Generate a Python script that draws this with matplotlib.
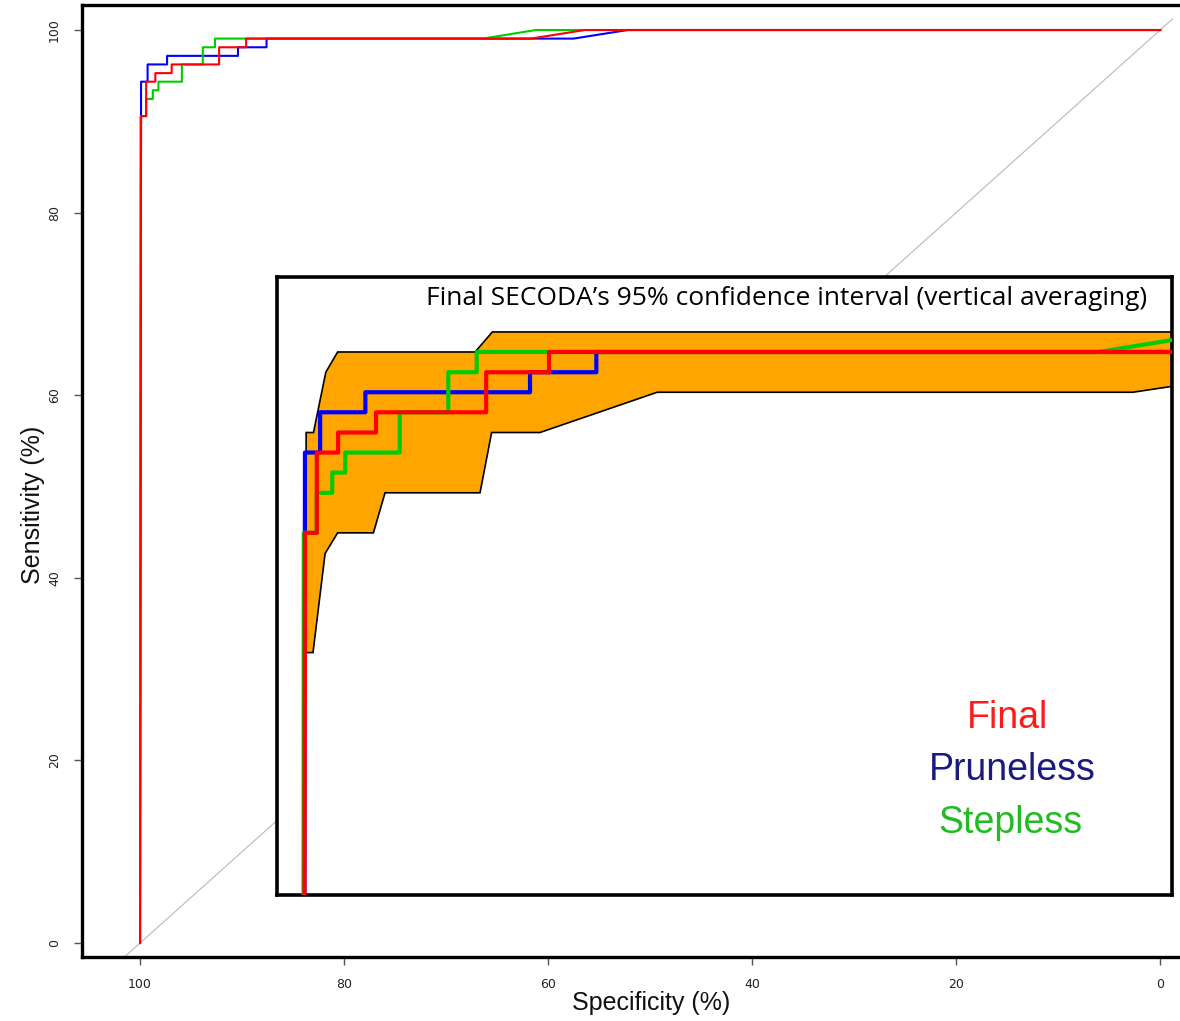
import matplotlib
matplotlib.use("Agg")
import matplotlib.pyplot as plt

# ROC curves (specificity %, sensitivity %)
final_spec = [100, 99.9, 99.4, 99.4, 98.5, 98.5, 96.9, 96.9, 92.25, 92.25, 89.6, 89.6, 61.7, 56.4, 0]
final_sens = [0, 90.57, 90.57, 94.34, 94.34, 95.28, 95.28, 96.23, 96.23, 98.11, 98.11, 99.06, 99.06, 100, 100]

pruneless_spec = [100, 99.9, 99.26, 99.26, 97.35, 97.35, 90.4, 90.4, 87.6, 87.6, 57.5, 52.2, 0]
pruneless_sens = [0, 94.34, 94.34, 96.23, 96.23, 97.17, 97.17, 98.11, 98.11, 99.06, 99.06, 100, 100]

stepless_spec = [100, 99.95, 99.4, 99.4, 98.75, 98.75, 98.2, 98.2, 95.9, 95.9, 93.85, 93.85,
                 92.65, 92.65, 66.4, 61.2, 0]
stepless_sens = [0, 90.57, 90.57, 92.45, 92.45, 93.40, 93.40, 94.34, 94.34, 96.23, 96.23, 98.11,
                 98.11, 99.06, 99.06, 100, 100]

# 95% CI band of Final (vertical averaging)
ci_upper_spec = [99.85, 99.85, 99.54, 99.02, 98.52, 92.72, 91.99, 0]
ci_upper_sens = [84.95, 95.28, 95.28, 98.11, 99.06, 99.06, 100, 100]
ci_lower_spec = [99.85, 99.56, 99.05, 98.52, 97.01, 96.52, 92.51, 92.02, 89.98, 85.03, 64.95, 60]
ci_lower_sens = [84.95, 84.95, 89.6, 90.57, 90.57, 92.45, 92.45, 95.28, 95.28, 97.17, 97.17, 98.0]

x_ticks = [100, 80, 60, 40, 20, 0]
y_ticks = [0, 20, 40, 60, 80, 100]

RED = "#ff0000"
BLUE = "#0000ff"
GREEN = "#00cc00"

W, H = 1180, 1021
fig = plt.figure(figsize=(W / 100, H / 100), dpi=100)

# main axes (pixel box measured on the reference)
ax = fig.add_axes([82 / W, 1 - 957 / H, (1192 - 82) / W, (957 - 5) / H])
ax.set_xlim(105.69, -3.12)
ax.set_ylim(-1.53, 102.74)

ax.plot([106, -1.2], [-6, 101.2], color="#c0c0c0", lw=0.9, zorder=1)
ax.plot(pruneless_spec, pruneless_sens, color=BLUE, lw=1.5, zorder=2)
ax.plot(stepless_spec, stepless_sens, color=GREEN, lw=1.5, zorder=3)
ax.plot(final_spec, final_sens, color=RED, lw=1.5, zorder=4)

for s in ["left", "top", "bottom", "right"]:
    ax.spines[s].set_linewidth(2.4)
    ax.spines[s].set_color("black")

ax.set_xticks(x_ticks)
ax.set_yticks(y_ticks)
ax.tick_params(axis="both", direction="out", length=6, width=1, color="#555555",
               labelsize=9, labelcolor="#222222")
ax.tick_params(axis="x", pad=9)
ax.tick_params(axis="y", pad=9)
for lab in ax.get_yticklabels():
    lab.set_rotation(90)
    lab.set_va("center")

lab_font = ["Liberation Sans", "DejaVu Sans"]
fig.text(651 / W, 1 - 1003 / H, "Specificity (%)", ha="center", va="center",
         fontsize=18, family=lab_font, color="#111111")
fig.text(33 / W, 1 - 505 / H, "Sensitivity (%)", ha="center", va="center",
         fontsize=18, family=lab_font, rotation=90, color="#111111")

# inset zoom with the CI band
ins = fig.add_axes([277 / W, 1 - 895 / H, (1172 - 277) / W, (895 - 277) / H])
ins.set_xlim(101.08, 63.3)
ins.set_ylim(73.57, 102.58)
ins.set_xticks([])
ins.set_yticks([])
for s in ins.spines.values():
    s.set_linewidth(2.6)
    s.set_color("black")

band_x = ci_upper_spec + ci_lower_spec[::-1]
band_y = ci_upper_sens + ci_lower_sens[::-1]
ins.fill(band_x, band_y, facecolor="#ffa500", edgecolor="black", lw=1.2, zorder=1)

ins.plot(pruneless_spec, pruneless_sens, color=BLUE, lw=3, zorder=2)
ins.plot(stepless_spec, stepless_sens, color=GREEN, lw=3, zorder=3)
ins.plot(final_spec, final_sens, color=RED, lw=3, zorder=4)

fig.text(1147 / W, 1 - 298 / H, "Final SECODA\u2019s 95% confidence interval (vertical averaging)",
         ha="right", va="center", fontsize=19, family=["Open Sans", "DejaVu Sans"], color="black")

leg_font = ["Liberation Sans", "DejaVu Sans"]
fig.text(1008 / W, 1 - 718 / H, "Final", ha="center", va="center", fontsize=27,
         family=leg_font, color="#ff1a1a")
fig.text(1012 / W, 1 - 770 / H, "Pruneless", ha="center", va="center", fontsize=27,
         family=leg_font, color="#1a1a80")
fig.text(1010 / W, 1 - 823 / H, "Stepless", ha="center", va="center", fontsize=27,
         family=leg_font, color="#22bb22")

fig.savefig("out.png", dpi=100)
